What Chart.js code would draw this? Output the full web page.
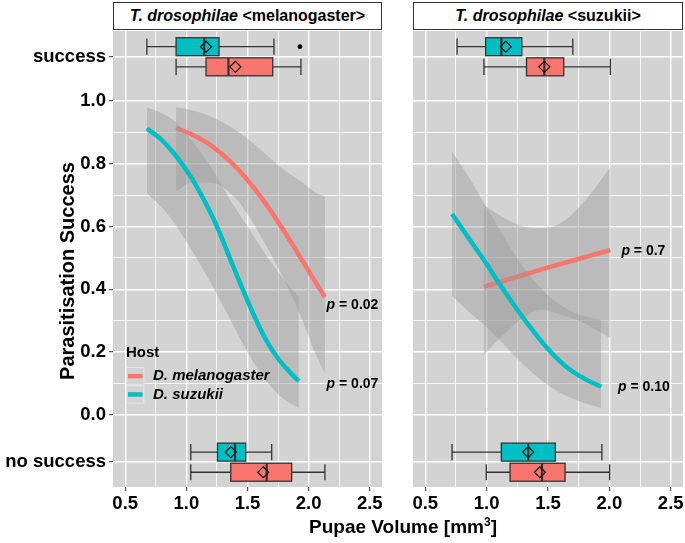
<!DOCTYPE html>
<html>
<head>
<meta charset="utf-8">
<script src="https://cdn.jsdelivr.net/npm/chart.js@4.4.1/dist/chart.umd.min.js"></script>
<style>
html,body{margin:0;padding:0;background:#fff;width:685px;height:543px;overflow:hidden;font-family:"Liberation Sans",Arial,sans-serif;color:#000;}
canvas{position:absolute;top:31px;}
#c1{left:0;}
#c2{left:413px;}
.strip{position:absolute;top:2px;height:28px;border:1px solid #333;background:#fff;box-sizing:border-box;text-align:center;font-weight:bold;font-size:16px;line-height:26px;white-space:nowrap;}
#ytitle{position:absolute;left:-83px;top:259px;width:300px;height:24px;line-height:24px;text-align:center;font-weight:bold;font-size:20px;transform:rotate(-90deg);white-space:nowrap;}
#xtitle{position:absolute;left:253px;top:517px;width:300px;line-height:19px;text-align:center;font-weight:bold;font-size:19px;white-space:nowrap;}
#xtitle sup{font-size:12px;vertical-align:7px;line-height:0;}
</style>
</head>
<body>
<div class="strip" style="left:113px;width:269px;"><i>T. drosophilae</i> &lt;melanogaster&gt;</div>
<div class="strip" style="left:413px;width:270px;"><i>T. drosophilae</i> &lt;suzukii&gt;</div>
<canvas id="c1" width="382" height="512"></canvas>
<canvas id="c2" width="272" height="512"></canvas>
<div id="ytitle">Parasitisation Success</div>
<div id="xtitle">Pupae Volume [mm<sup>3</sup>]</div>
<script>
// ---------- axis ticks ----------
const xTicks = [0.5, 0.75, 1.0, 1.25, 1.5, 1.75, 2.0, 2.25, 2.5];
const xTickLabels = ['0.5', '', '1.0', '', '1.5', '', '2.0', '', '2.5'];
const yTicks = [-0.15, 0, 0.1, 0.2, 0.3, 0.4, 0.5, 0.6, 0.7, 0.8, 0.9, 1.0, 1.14];
const yTickLabels = ['no success', '0.0', '', '0.2', '', '0.4', '', '0.6', '', '0.8', '', '1.0', 'success'];

const hosts = ['D. melanogaster', 'D. suzukii'];
const outcomeValues = [1.14, -0.15]; // success, no success

// ---------- left panel: T. drosophilae <melanogaster> ----------
const L_melX = [0.916, 1.05, 1.2, 1.35, 1.5, 1.65, 1.8, 1.95, 2.133];
const L_melY = [0.914, 0.892, 0.858, 0.81, 0.748, 0.672, 0.585, 0.49, 0.375];
const L_melBandX = [0.916, 1.05, 1.2, 1.35, 1.5, 1.65, 1.8, 1.95, 2.05, 2.133];
const L_melBandHi = [0.979, 0.97, 0.95, 0.92, 0.88, 0.83, 0.78, 0.74, 0.71, 0.695];
const L_melBandLo = [0.711, 0.74, 0.74, 0.71, 0.64, 0.54, 0.43, 0.30, 0.20, 0.133];

const L_suzX = [0.677, 0.8, 0.92, 1.05, 1.15, 1.25, 1.35, 1.45, 1.55, 1.65, 1.75, 1.85, 1.92];
const L_suzY = [0.912, 0.875, 0.822, 0.75, 0.68, 0.60, 0.505, 0.41, 0.32, 0.24, 0.18, 0.135, 0.108];
const L_suzBandX = [0.677, 0.8, 0.92, 1.05, 1.2, 1.35, 1.5, 1.65, 1.8, 1.92];
const L_suzBandHi = [0.979, 0.96, 0.93, 0.87, 0.79, 0.69, 0.60, 0.51, 0.43, 0.375];
const L_suzBandLo = [0.706, 0.66, 0.60, 0.52, 0.42, 0.31, 0.20, 0.11, 0.05, 0.022];

// five-number summaries [whisker low, Q1, median, Q3, whisker high]
const L_boxSuccessMel = [0.916, 1.161, 1.344, 1.706, 1.937];
const L_boxSuccessSuz = [0.677, 0.916, 1.145, 1.267, 1.716];
const L_boxNoSuccessMel = [1.036, 1.363, 1.657, 1.861, 2.133];
const L_boxNoSuccessSuz = [1.036, 1.254, 1.398, 1.485, 1.698];
const L_meanMel = [1.401, 1.629];   // success, no success
const L_meanSuz = [1.161, 1.363];
const L_outlierSuccessSuz = [1.929];
const L_pLabels = ['0.02', '0.07'];
const L_pX = [2.147, 2.147];
const L_pY = [0.35, 0.099];

// ---------- right panel: T. drosophilae <suzukii> ----------
const R_melX = [0.978, 1.489, 2.008];
const R_melY = [0.408, 0.468, 0.525];
const R_melBandX = [0.978, 1.15, 1.3, 1.45, 1.6, 1.75, 1.9, 2.008];
const R_melBandHi = [0.668, 0.625, 0.60, 0.595, 0.61, 0.66, 0.73, 0.79];
const R_melBandLo = [0.191, 0.26, 0.31, 0.335, 0.32, 0.30, 0.27, 0.244];

const R_suzX = [0.718, 0.85, 0.978, 1.1, 1.25, 1.374, 1.5, 1.648, 1.8, 1.934];
const R_suzY = [0.640, 0.565, 0.493, 0.42, 0.335, 0.27, 0.21, 0.154, 0.115, 0.090];
const R_suzBandX = [0.718, 0.85, 1.0, 1.15, 1.3, 1.45, 1.6, 1.75, 1.934];
const R_suzBandHi = [0.838, 0.76, 0.66, 0.56, 0.47, 0.40, 0.35, 0.32, 0.303];
const R_suzBandLo = [0.379, 0.33, 0.28, 0.22, 0.16, 0.11, 0.07, 0.045, 0.022];

const R_boxSuccessMel = [0.978, 1.325, 1.470, 1.628, 2.008];
const R_boxSuccessSuz = [0.759, 0.992, 1.120, 1.287, 1.702];
const R_boxNoSuccessMel = [0.997, 1.191, 1.451, 1.639, 2.002];
const R_boxNoSuccessSuz = [0.718, 1.120, 1.339, 1.560, 1.939];
const R_meanMel = [1.470, 1.434];
const R_meanSuz = [1.156, 1.339];
const R_pLabels = ['0.7', '0.10'];
const R_pX = [2.098, 2.07];
const R_pY = [0.52, 0.09];

// ---------- style ----------
const COL_MEL = '#F8766D', COL_SUZ = '#00BFC4';
const BAND = 'rgba(153,153,153,0.4)';
const PANEL = '#D3D3D3';
const FONT = '"Liberation Sans", Arial, sans-serif';
const BOX_HALF = 0.0286, DODGE = 0.032;

function pts(xs, ys) { return xs.map((x, i) => ({x: x, y: ys[i]})); }

function datasets(melX, melY, melBX, melHi, melLo, suzX, suzY, suzBX, suzHi, suzLo) {
  const base = {pointRadius: 0, cubicInterpolationMode: 'monotone'};
  return [
    Object.assign({label: 'suz', data: pts(suzX, suzY), borderColor: COL_SUZ, borderWidth: 4.5, fill: false, order: 0, borderCapStyle: 'butt'}, base),
    Object.assign({label: 'suzHi', data: pts(suzBX, suzHi), borderColor: 'rgba(0,0,0,0)', borderWidth: 0, fill: 2, backgroundColor: BAND, order: 1}, base),
    Object.assign({label: 'suzLo', data: pts(suzBX, suzLo), borderColor: 'rgba(0,0,0,0)', borderWidth: 0, fill: false, order: 1}, base),
    Object.assign({label: 'mel', data: pts(melX, melY), borderColor: COL_MEL, borderWidth: 4.5, fill: false, order: 2, borderCapStyle: 'butt'}, base),
    Object.assign({label: 'melHi', data: pts(melBX, melHi), borderColor: 'rgba(0,0,0,0)', borderWidth: 0, fill: 5, backgroundColor: BAND, order: 3}, base),
    Object.assign({label: 'melLo', data: pts(melBX, melLo), borderColor: 'rgba(0,0,0,0)', borderWidth: 0, fill: false, order: 3}, base)
  ];
}

const panelBg = {
  id: 'panelBg',
  beforeDraw(chart) {
    const a = chart.chartArea, ctx = chart.ctx;
    ctx.save(); ctx.fillStyle = PANEL;
    ctx.fillRect(a.left, a.top, a.right - a.left, a.bottom - a.top);
    ctx.restore();
  }
};

function drawBox(chart, five, mean, yVal, color, outliers) {
  const xs = chart.scales.x, ys = chart.scales.y, ctx = chart.ctx;
  const yc = ys.getPixelForValue(yVal);
  const hh = Math.abs(ys.getPixelForValue(yVal + BOX_HALF) - yc);
  const p = five.map(v => xs.getPixelForValue(v));
  ctx.save();
  ctx.strokeStyle = '#333'; ctx.lineWidth = 1.3;
  ctx.beginPath();
  ctx.moveTo(p[0], yc); ctx.lineTo(p[1], yc);
  ctx.moveTo(p[3], yc); ctx.lineTo(p[4], yc);
  const ch = hh * 0.9;
  ctx.moveTo(p[0], yc - ch); ctx.lineTo(p[0], yc + ch);
  ctx.moveTo(p[4], yc - ch); ctx.lineTo(p[4], yc + ch);
  ctx.stroke();
  ctx.fillStyle = color;
  ctx.fillRect(p[1], yc - hh, p[3] - p[1], 2 * hh);
  ctx.strokeRect(p[1], yc - hh, p[3] - p[1], 2 * hh);
  ctx.lineWidth = 2.2;
  ctx.beginPath(); ctx.moveTo(p[2], yc - hh); ctx.lineTo(p[2], yc + hh); ctx.stroke();
  const mx = xs.getPixelForValue(mean), r = 5.5;
  ctx.strokeStyle = '#111'; ctx.lineWidth = 1.2;
  ctx.beginPath();
  ctx.moveTo(mx, yc - r); ctx.lineTo(mx + r, yc); ctx.lineTo(mx, yc + r); ctx.lineTo(mx - r, yc);
  ctx.closePath(); ctx.stroke();
  ctx.fillStyle = '#000';
  (outliers || []).forEach(o => {
    ctx.beginPath(); ctx.arc(xs.getPixelForValue(o), yc, 2.4, 0, Math.PI * 2); ctx.fill();
  });
  ctx.restore();
}

function drawP(chart, labels, px, py) {
  const xs = chart.scales.x, ys = chart.scales.y, ctx = chart.ctx;
  ctx.save();
  ctx.fillStyle = '#000'; ctx.textBaseline = 'middle'; ctx.textAlign = 'left';
  labels.forEach((t, i) => {
    const x = xs.getPixelForValue(px[i]), y = ys.getPixelForValue(py[i]);
    ctx.font = 'italic bold 14px ' + FONT;
    ctx.fillText('p', x, y);
    const w = ctx.measureText('p').width;
    ctx.font = 'bold 14px ' + FONT;
    ctx.fillText(' = ' + t, x + w, y);
  });
  ctx.restore();
}

function boxesPlugin(bSM, bSS, bNM, bNS, meanM, meanS, outSS, pL, pX, pY) {
  return {
    id: 'boxes',
    afterDatasetsDraw(chart) {
      drawBox(chart, bSS, meanS[0], outcomeValues[0] + DODGE, COL_SUZ, outSS);
      drawBox(chart, bSM, meanM[0], outcomeValues[0] - DODGE, COL_MEL, []);
      drawBox(chart, bNS, meanS[1], outcomeValues[1] + DODGE, COL_SUZ, []);
      drawBox(chart, bNM, meanM[1], outcomeValues[1] - DODGE, COL_MEL, []);
      drawP(chart, pL, pX, pY);
    }
  };
}

const legendPlugin = {
  id: 'hostLegend',
  afterDraw(chart) {
    const ctx = chart.ctx;
    const top = 31; // canvas offset on page
    ctx.save();
    ctx.fillStyle = '#000'; ctx.textBaseline = 'middle'; ctx.textAlign = 'left';
    ctx.font = 'bold 15px ' + FONT;
    ctx.fillText('Host', 126, 353 - top);
    const cols = [COL_MEL, COL_SUZ];
    for (let i = 0; i < 2; i++) {
      const y0 = 367 - top + i * 18.3;
      ctx.fillStyle = PANEL; ctx.fillRect(126, y0, 18.3, 18.3);
      ctx.strokeStyle = '#E6E6E6'; ctx.lineWidth = 1; ctx.strokeRect(126.5, y0 + 0.5, 17.3, 17.3);
      ctx.strokeStyle = cols[i]; ctx.lineWidth = 4.5;
      ctx.beginPath(); ctx.moveTo(128, y0 + 9.15); ctx.lineTo(142.5, y0 + 9.15); ctx.stroke();
      ctx.fillStyle = '#000'; ctx.font = 'italic bold 15px ' + FONT;
      ctx.fillText(hosts[i], 153, y0 + 9.15);
    }
    ctx.restore();
  }
};

function scales(showY) {
  const tickFont = {family: FONT, size: 18.5, weight: 'bold'};
  return {
    x: {
      type: 'linear', min: 0.4, max: 2.6,
      afterBuildTicks: s => { s.ticks = xTicks.map(v => ({value: v})); },
      afterFit: s => { s.height = 56; s.paddingLeft = 0; s.paddingRight = 0; },
      ticks: {autoSkip: false, maxRotation: 0, font: tickFont, color: '#000', padding: 2,
              callback: (v, i) => xTickLabels[i]},
      grid: {color: '#fff', lineWidth: c => xTickLabels[c.index] === '' ? 0.8 : 1.4,
             tickColor: c => xTickLabels[c.index] === '' ? 'rgba(0,0,0,0)' : '#333',
             tickLength: 4, tickWidth: 1},
      border: {display: false}
    },
    y: {
      type: 'linear', min: -0.229, max: 1.222,
      afterBuildTicks: s => { s.ticks = yTicks.map(v => ({value: v})); },
      afterFit: s => { s.width = showY ? 113 : 0; s.paddingTop = 0; s.paddingBottom = 0; },
      ticks: {display: showY, autoSkip: false, font: tickFont, color: '#000', padding: 3,
              callback: (v, i) => yTickLabels[i]},
      grid: {color: '#fff', lineWidth: c => yTickLabels[c.index] === '' ? 0.8 : 1.4,
             tickColor: c => yTickLabels[c.index] === '' ? 'rgba(0,0,0,0)' : '#333',
             drawTicks: showY, tickLength: 4, tickWidth: 1},
      border: {display: false}
    }
  };
}

const common = {
  responsive: false, animation: false, devicePixelRatio: 1, events: [],
  plugins: {legend: {display: false}, tooltip: {enabled: false}}
};

new Chart(document.getElementById('c1'), {
  type: 'line',
  data: {datasets: datasets(L_melX, L_melY, L_melBandX, L_melBandHi, L_melBandLo,
                            L_suzX, L_suzY, L_suzBandX, L_suzBandHi, L_suzBandLo)},
  options: Object.assign({}, common, {layout: {padding: 0}, scales: scales(true)}),
  plugins: [panelBg, boxesPlugin(L_boxSuccessMel, L_boxSuccessSuz, L_boxNoSuccessMel, L_boxNoSuccessSuz,
                                 L_meanMel, L_meanSuz, L_outlierSuccessSuz, L_pLabels, L_pX, L_pY), legendPlugin]
});

new Chart(document.getElementById('c2'), {
  type: 'line',
  data: {datasets: datasets(R_melX, R_melY, R_melBandX, R_melBandHi, R_melBandLo,
                            R_suzX, R_suzY, R_suzBandX, R_suzBandHi, R_suzBandLo)},
  options: Object.assign({}, common, {layout: {padding: {left: 0, right: 2, top: 0, bottom: 0}}, scales: scales(false)}),
  plugins: [panelBg, boxesPlugin(R_boxSuccessMel, R_boxSuccessSuz, R_boxNoSuccessMel, R_boxNoSuccessSuz,
                                 R_meanMel, R_meanSuz, [], R_pLabels, R_pX, R_pY)]
});
</script>
</body>
</html>
